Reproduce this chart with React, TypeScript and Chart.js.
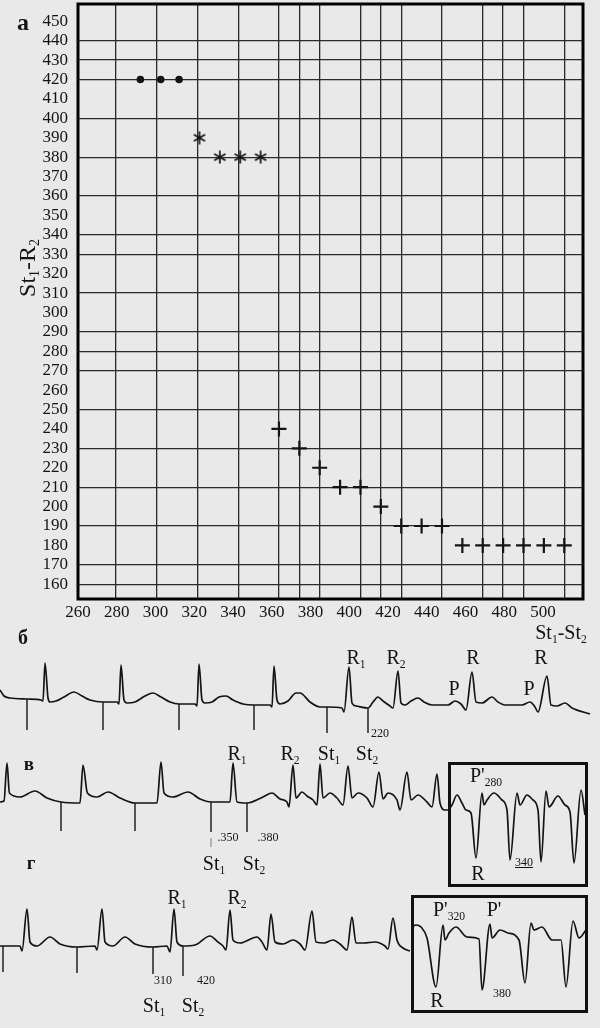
import React, { useEffect, useRef } from "react";
import { Chart, registerables } from "chart.js";

Chart.register(...registerables);

const FONT = "'Liberation Serif', 'DejaVu Serif', 'Times New Roman', serif";
const INK = "#141414";
const GRID = "#2a2a2a";
const BG = "#e9e9e9";

// ---------- Panel а : scatter ----------
const yTickLabels = [160, 170, 180, 190, 200, 210, 220, 230, 240, 250, 260, 270, 280, 290, 300, 310, 320, 330, 340, 350, 360, 370, 380, 390, 400, 410, 420, 430, 440, 450];
const xTickLabels = [260, 280, 300, 320, 340, 360, 380, 400, 420, 440, 460, 480, 500];
const xGridValues = [280, 300, 320, 340, 360, 370, 380, 400, 410, 420, 440, 460, 470, 480, 500];
const yGridValues = [160, 170, 190, 210, 230, 250, 270, 280, 290, 310, 330, 340, 360, 380, 400, 420, 430, 440];

const dotX = [292, 302, 311];
const dotY = [420, 420, 420];
const starX = [321, 331, 341, 351];
const starY = [390, 380, 380, 380];
const crossX = [360, 370, 380, 390, 400, 410, 420, 430, 440, 450, 460, 470, 480, 490, 500];
const crossY = [240, 230, 220, 210, 210, 200, 190, 190, 190, 180, 180, 180, 180, 180, 180];

// ---------- ECG traces: [time ms, amplitude mm] ----------
const ecgB: [number, number][] = [
  [0, 10], [20, 4], [50, 2], [135, 1], [205, 0], [215, -1], [225, 37], [240, 2], [250, -2], [280, -1], [320, 3], [370, 8], [410, 4], [450, 0],
  [515, -2], [585, -2], [595, -4], [605, 35], [620, 0], [635, -3], [675, -2], [725, 4], [765, 7], [805, 3], [850, -2],
  [895, -4], [975, -4], [985, -6], [995, 36], [1010, 0], [1025, -3], [1060, -2], [1095, 3], [1130, 4], [1165, 0], [1215, -4],
  [1270, -5], [1350, -5], [1360, -7], [1370, 34], [1385, 0], [1400, -4], [1440, -1], [1480, 7], [1500, 7], [1550, -2], [1600, -7],
  [1635, -7], [1710, -8], [1720, -12], [1745, 33], [1760, -3], [1780, -6], [1840, -8], [1865, -2], [1890, 3], [1915, -1], [1950, -6],
  [1965, -8], [1990, 29], [2005, -3], [2025, -5], [2055, -1], [2090, 2], [2120, -2], [2160, -5], [2240, -5], [2275, -1], [2305, -4],
  [2330, -10], [2360, 28], [2380, -2], [2410, -3], [2460, 3], [2490, -2], [2525, -5], [2610, -5], [2650, -2], [2675, -7], [2690, -12],
  [2735, 24], [2755, -5], [2785, -6], [2825, -3], [2860, -8], [2950, -14],
];
const stimBTime = [135, 515, 895, 1270, 1635, 1840];
const stimBTop = [1, -2, -4, -5, -7, -8];
const stimBBottom = [-30, -30, -30, -30, -33, -33];

const ecgV: [number, number][] = [
  [0, -2], [20, -1], [35, 37], [47, 7], [100, 3], [175, 9], [235, 2], [305, -2], [400, -3], [415, 35], [437, 7], [485, 3], [540, 8],
  [600, 2], [675, -3], [785, -3], [805, 38], [820, 7], [865, 3], [940, 8], [1000, 1], [1055, -2], [1150, -2], [1165, 37], [1185, -2],
  [1235, -3], [1315, 3], [1360, 7], [1400, 1], [1435, -2], [1445, -7], [1465, 35], [1480, 2], [1510, 8], [1535, 4], [1565, 0],
  [1585, -5], [1600, 36], [1615, 2], [1650, 7], [1685, 2], [1715, -5], [1740, 34], [1760, 2], [1790, 7], [1835, 2], [1865, -7],
  [1895, 28], [1915, 1], [1940, 7], [1985, 0], [2000, -10], [2035, 28], [2055, 0], [2090, 5], [2135, -2], [2160, -7], [2185, 26],
  [2200, -3], [2225, -10], [2240, -10],
];
const stimVTime = [305, 675, 1055, 1235];
const stimVTop = [-2, -3, -2, -3];
const stimVBottom = [-31, -31, -32, -32];

const ecgVInset: [number, number][] = [
  [0, 0], [20, 5], [45, 15], [70, 7], [90, 0], [115, -3], [140, -48], [170, 17], [180, 5], [195, 10], [230, 17], [270, 10], [295, 0],
  [310, -50], [345, 17], [360, 5], [395, 15], [425, 10], [450, 0], [465, -52], [490, 19], [505, 3], [550, 14], [585, 5], [610, -2],
  [630, -53], [665, 20], [685, -5],
];

const ecgG: [number, number][] = [
  [0, 0], [100, 0], [110, -5], [135, 37], [150, 4], [185, 0], [250, 9], [300, 2], [385, -1], [475, 0], [485, -4], [510, 37], [525, 4],
  [565, 0], [625, 9], [675, 2], [765, -1], [835, 0], [850, -6], [870, 37], [885, 4], [915, 0], [975, 1], [1050, 10], [1090, 4],
  [1115, 0], [1130, -4], [1150, 36], [1165, 6], [1200, 3], [1285, 9], [1310, 4], [1335, -4], [1355, 32], [1375, 4], [1415, 2],
  [1465, 6], [1500, 2], [1525, -4], [1560, 35], [1580, 4], [1620, 3], [1665, 6], [1700, 2], [1735, -4], [1760, 29], [1780, 3],
  [1820, 3], [1875, 4], [1925, 0], [1940, -3], [1965, 28], [1985, 6], [2015, -2], [2050, -5],
];
const stimGTime = [15, 385, 765, 915];
const stimGTop = [0, -1, -1, 0];
const stimGBottom = [-26, -27, -28, -30];

const ecgGInset: [number, number][] = [
  [5, 13], [25, 15], [50, 13], [80, 2], [125, -47], [160, 15], [170, 0], [190, 7], [225, 13], [280, 3], [340, 1], [355, -50],
  [395, 16], [405, 2], [445, 10], [485, 7], [540, 0], [570, -43], [600, 17], [615, 10], [655, 13], [705, 0], [750, 0], [775, -47],
  [810, 19], [840, 2], [875, 10],
];

// ---------- helpers ----------
const frameBorder = {
  id: "frameBorder",
  afterDraw(chart: any) {
    const { ctx, chartArea } = chart;
    const { left, top, right, bottom } = chartArea;
    ctx.save();
    ctx.strokeStyle = "#000";
    ctx.lineWidth = 3;
    ctx.strokeRect(left, top, right - left, bottom - top);
    ctx.restore();
  },
};

function makeAsterisk(size: number) {
  const c = document.createElement("canvas");
  c.width = size;
  c.height = size;
  const g = c.getContext("2d")!;
  g.strokeStyle = INK;
  g.lineWidth = 1.7;
  const r = size / 2 - 0.5;
  for (let k = 0; k < 3; k++) {
    const a = Math.PI / 2 + (k * Math.PI) / 3;
    g.beginPath();
    g.moveTo(size / 2 + r * Math.cos(a), size / 2 - r * Math.sin(a));
    g.lineTo(size / 2 - r * Math.cos(a), size / 2 + r * Math.sin(a));
    g.stroke();
  }
  return c;
}

function scatterConfig(): any {
  const pts = (xs: number[], ys: number[]) => xs.map((x, i) => ({ x, y: ys[i] }));
  return {
    type: "scatter",
    data: {
      datasets: [
        { data: pts(dotX, dotY), xAxisID: "x", yAxisID: "y", pointStyle: "circle", pointRadius: 3.8, backgroundColor: INK, borderColor: INK, borderWidth: 0 },
        { data: pts(starX, starY), xAxisID: "x", yAxisID: "y", pointStyle: makeAsterisk(14), pointRadius: 7 },
        { data: pts(crossX, crossY), xAxisID: "x", yAxisID: "y", pointStyle: "cross", pointRadius: 7.5, borderColor: INK, borderWidth: 2.2 },
      ],
    },
    options: {
      animation: false,
      responsive: false,
      events: [],
      layout: { autoPadding: false, padding: { left: 0, right: 17, top: 4, bottom: 0 } },
      plugins: { legend: { display: false }, tooltip: { enabled: false } },
      scales: {
        x: {
          type: "linear",
          axis: "x",
          position: "bottom",
          min: 261.4,
          max: 509.2,
          afterBuildTicks: (s: any) => { s.ticks = xGridValues.map((v) => ({ value: v })); },
          ticks: { display: false },
          grid: { color: GRID, lineWidth: 1.3, drawTicks: false },
          border: { display: false },
          afterFit: (s: any) => { s.height = 0; s.paddingLeft = 0; s.paddingRight = 0; },
        },
        xl: {
          type: "linear",
          axis: "x",
          position: "bottom",
          min: 260,
          max: 520.6,
          afterBuildTicks: (s: any) => { s.ticks = xTickLabels.map((v) => ({ value: v })); },
          grid: { display: false, drawTicks: false },
          border: { display: false },
          ticks: { font: { family: FONT, size: 17 }, color: INK, padding: 3, maxRotation: 0, autoSkip: false },
          afterFit: (s: any) => { s.height = 41; s.paddingLeft = 0; s.paddingRight = 0; },
        },
        y: {
          type: "linear",
          min: 152.4,
          max: 458.9,
          afterBuildTicks: (s: any) => { s.ticks = yTickLabels.map((v) => ({ value: v })); },
          ticks: { font: { family: FONT, size: 17 }, color: INK, padding: 10, autoSkip: false },
          grid: {
            color: (c: any) => (c.tick && yGridValues.includes(c.tick.value) ? GRID : "rgba(0,0,0,0)"),
            lineWidth: 1.3,
            drawTicks: false,
          },
          border: { display: false },
          afterFit: (s: any) => { s.width = 78; s.paddingTop = 0; s.paddingBottom = 0; },
        },
      },
    },
    plugins: [frameBorder],
  };
}

function ecgConfig(trace: [number, number][], stimT: number[], stimTop: number[], stimBottom: number[], xMax: number, yMin: number, yMax: number): any {
  const stimPts: { x: number; y: number | null }[] = [];
  stimT.forEach((t, i) => {
    stimPts.push({ x: t, y: stimTop[i] }, { x: t, y: stimBottom[i] }, { x: t, y: null });
  });
  return {
    type: "scatter",
    data: {
      datasets: [
        { data: trace.map(([x, y]) => ({ x, y })), showLine: true, borderColor: INK, borderWidth: 1.7, pointRadius: 0, cubicInterpolationMode: "monotone" },
        { data: stimPts, showLine: true, borderColor: INK, borderWidth: 1.4, pointRadius: 0, spanGaps: false, tension: 0 },
      ],
    },
    options: {
      animation: false,
      responsive: false,
      events: [],
      layout: { autoPadding: false, padding: 0 },
      plugins: { legend: { display: false }, tooltip: { enabled: false } },
      scales: {
        x: { type: "linear", display: false, min: 0, max: xMax },
        y: { type: "linear", display: false, min: yMin, max: yMax },
      },
    },
  };
}

function ChartCanvas({ left, top, width, height, make }: { left: number; top: number; width: number; height: number; make: () => any }) {
  const ref = useRef<HTMLCanvasElement>(null);
  useEffect(() => {
    const chart = new Chart(ref.current!, make());
    return () => chart.destroy();
  }, []);
  return <canvas ref={ref} width={width} height={height} style={{ position: "absolute", left, top, width, height }} />;
}

const Sub = ({ children }: { children: React.ReactNode }) => (
  <span style={{ fontSize: "0.58em", position: "relative", top: "0.32em" }}>{children}</span>
);

function Label({ x, y, size = 20, bold = false, rotate = 0, children, underline = false }: { x: number; y: number; size?: number; bold?: boolean; rotate?: number; children: React.ReactNode; underline?: boolean }) {
  return (
    <div
      style={{
        position: "absolute",
        left: x,
        top: y,
        transform: `translate(-50%, -50%)${rotate ? ` rotate(${rotate}deg)` : ""}`,
        fontFamily: FONT,
        fontSize: size,
        fontWeight: bold ? 700 : 400,
        color: INK,
        lineHeight: 1,
        whiteSpace: "nowrap",
        textDecoration: underline ? "underline" : "none",
      }}
    >
      {children}
    </div>
  );
}

function Box({ left, top, width, height }: { left: number; top: number; width: number; height: number }) {
  return <div style={{ position: "absolute", left, top, width, height, border: "3px solid #111", boxSizing: "border-box" }} />;
}

export default function App() {
  useEffect(() => {
    document.body.style.margin = "0";
    document.body.style.background = BG;
  }, []);

  return (
    <div style={{ position: "relative", width: 600, height: 1028, overflow: "hidden", background: BG }}>
      <ChartCanvas left={0} top={0} width={600} height={640} make={scatterConfig} />
      <ChartCanvas left={0} top={640} width={600} height={100} make={() => ecgConfig(ecgB, stimBTime, stimBTop, stimBBottom, 3000, -40, 60)} />
      <ChartCanvas left={0} top={750} width={600} height={100} make={() => ecgConfig(ecgV, stimVTime, stimVTop, stimVBottom, 3000, -50, 50)} />
      <ChartCanvas left={448} top={762} width={140} height={125} make={() => ecgConfig(ecgVInset, [], [], [], 700, -77, 48)} />
      <ChartCanvas left={0} top={895} width={600} height={100} make={() => ecgConfig(ecgG, stimGTime, stimGTop, stimGBottom, 3000, -49, 51)} />
      <ChartCanvas left={411} top={895} width={177} height={118} make={() => ecgConfig(ecgGInset, [], [], [], 885, -73, 45)} />
      <Box left={448} top={762} width={140} height={125} />
      <Box left={411} top={895} width={177} height={118} />

      {/* panel а */}
      <Label x={23} y={22} size={24} bold>а</Label>
      <Label x={27} y={268} size={24} rotate={-90}>St<Sub>1</Sub>-R<Sub>2</Sub></Label>
      <Label x={561} y={632} size={20}>St<Sub>1</Sub>-St<Sub>2</Sub></Label>

      {/* panel б */}
      <Label x={23} y={637} size={20} bold>б</Label>
      <Label x={356} y={657}>R<Sub>1</Sub></Label>
      <Label x={396} y={657}>R<Sub>2</Sub></Label>
      <Label x={473} y={657}>R</Label>
      <Label x={541} y={657}>R</Label>
      <Label x={454} y={688}>P</Label>
      <Label x={529} y={688}>P</Label>
      <Label x={380} y={733} size={12}>220</Label>

      {/* panel в */}
      <Label x={29} y={763} size={19} bold>в</Label>
      <Label x={237} y={753}>R<Sub>1</Sub></Label>
      <Label x={290} y={753}>R<Sub>2</Sub></Label>
      <Label x={329} y={753}>St<Sub>1</Sub></Label>
      <Label x={367} y={753}>St<Sub>2</Sub></Label>
      <Label x={211} y={842} size={10}>|</Label>
      <Label x={228} y={837} size={12}>.350</Label>
      <Label x={268} y={837} size={12}>.380</Label>
      <Label x={214} y={863}>St<Sub>1</Sub></Label>
      <Label x={254} y={863}>St<Sub>2</Sub></Label>
      <Label x={486} y={775}>P'<Sub>280</Sub></Label>
      <Label x={478} y={873}>R</Label>
      <Label x={524} y={862} size={12} underline>340</Label>

      {/* panel г */}
      <Label x={31} y={862} size={19} bold>г</Label>
      <Label x={177} y={897}>R<Sub>1</Sub></Label>
      <Label x={237} y={897}>R<Sub>2</Sub></Label>
      <Label x={163} y={980} size={12}>310</Label>
      <Label x={206} y={980} size={12}>420</Label>
      <Label x={154} y={1005}>St<Sub>1</Sub></Label>
      <Label x={193} y={1005}>St<Sub>2</Sub></Label>
      <Label x={449} y={909}>P'<Sub>320</Sub></Label>
      <Label x={494} y={909}>P'</Label>
      <Label x={437} y={1000}>R</Label>
      <Label x={502} y={993} size={12}>380</Label>
    </div>
  );
}
